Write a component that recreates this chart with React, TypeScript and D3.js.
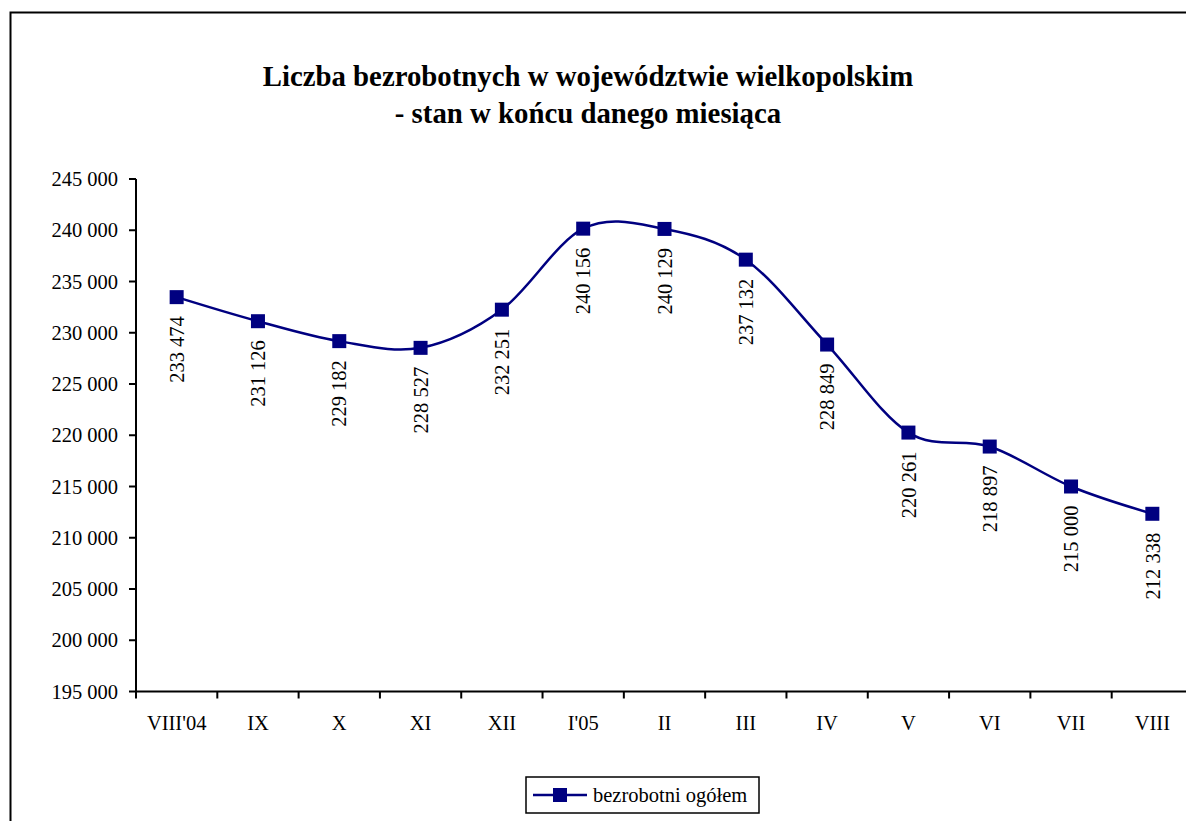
import React, { useEffect, useRef } from 'react';
import * as d3 from 'd3';

const months = ["VIII'04", 'IX', 'X', 'XI', 'XII', "I'05", 'II', 'III', 'IV', 'V', 'VI', 'VII', 'VIII'];
const unemployed = [233474, 231126, 229182, 228527, 232251, 240156, 240129, 237132, 228849, 220261, 218897, 215000, 212338];
const yTicks = [195000, 200000, 205000, 210000, 215000, 220000, 225000, 230000, 235000, 240000, 245000];
const titleLines = ['Liczba bezrobotnych w województwie wielkopolskim', '- stan w końcu danego miesiąca'];
const seriesName = 'bezrobotni ogółem';

const W = 1186;
const H = 821;
const NAVY = '#000080';
const FONT = 'Liberation Serif, Times New Roman, serif';

const fmt = (v: number) => d3.format(',')(v).replace(/,/g, ' ');

const App: React.FC = () => {
  const svgRef = useRef<SVGSVGElement | null>(null);

  useEffect(() => {
    const svg = d3.select(svgRef.current);
    svg.selectAll('*').remove();

    const left = 136;
    const right = 1193;
    const top = 179;
    const bottom = 691.5;

    const x = d3.scaleBand<string>().domain(months).range([left, right]).padding(0);
    const y = d3.scaleLinear().domain([195000, 245000]).range([bottom, top]);
    const cx = (m: string) => (x(m) || 0) + x.bandwidth() / 2;

    // outer chart border (runs off the picture right and bottom)
    svg.append('rect')
      .attr('x', 10.5).attr('y', 12.5)
      .attr('width', W + 20).attr('height', H + 20)
      .attr('fill', 'white').attr('stroke', '#000').attr('stroke-width', 2);

    // title
    svg.append('g')
      .selectAll('text')
      .data(titleLines)
      .join('text')
      .attr('x', 588)
      .attr('y', (_, i) => 85.5 + i * 37)
      .attr('text-anchor', 'middle')
      .attr('font-family', FONT)
      .attr('font-weight', 'bold')
      .attr('font-size', 28.8)
      .text(d => d);

    // y axis
    const yAxis = svg.append('g').attr('font-family', FONT).attr('font-size', 20.5);
    yAxis.append('line')
      .attr('x1', left).attr('x2', left).attr('y1', top).attr('y2', bottom)
      .attr('stroke', '#000').attr('stroke-width', 2);
    yAxis.selectAll('line.tick')
      .data(yTicks)
      .join('line')
      .attr('class', 'tick')
      .attr('x1', left - 7).attr('x2', left)
      .attr('y1', d => y(d)).attr('y2', d => y(d))
      .attr('stroke', '#000').attr('stroke-width', 2);
    yAxis.selectAll('text')
      .data(yTicks)
      .join('text')
      .attr('x', 118)
      .attr('y', d => y(d))
      .attr('dy', '0.35em')
      .attr('text-anchor', 'end')
      .text(d => fmt(d));

    // x axis
    const xAxis = svg.append('g').attr('font-family', FONT).attr('font-size', 20.5);
    xAxis.append('line')
      .attr('x1', left).attr('x2', right).attr('y1', bottom).attr('y2', bottom)
      .attr('stroke', '#000').attr('stroke-width', 2);
    xAxis.selectAll('line.tick')
      .data(months)
      .join('line')
      .attr('class', 'tick')
      .attr('x1', d => x(d) || 0).attr('x2', d => x(d) || 0)
      .attr('y1', bottom).attr('y2', bottom + 7)
      .attr('stroke', '#000').attr('stroke-width', 2);
    xAxis.selectAll('text')
      .data(months)
      .join('text')
      .attr('x', d => cx(d))
      .attr('y', 730)
      .attr('text-anchor', 'middle')
      .text(d => d);

    // series
    const pts = months.map((m, i) => ({ m, v: unemployed[i] }));
    const line = d3.line<{ m: string; v: number }>()
      .x(d => cx(d.m))
      .y(d => y(d.v))
      .curve(d3.curveCardinal.tension(0));

    svg.append('path')
      .datum(pts)
      .attr('d', line)
      .attr('fill', 'none')
      .attr('stroke', NAVY)
      .attr('stroke-width', 2.5);

    svg.append('g')
      .selectAll('rect')
      .data(pts)
      .join('rect')
      .attr('x', d => cx(d.m) - 7)
      .attr('y', d => y(d.v) - 7)
      .attr('width', 14)
      .attr('height', 14)
      .attr('fill', NAVY);

    // data labels, rotated
    svg.append('g')
      .attr('font-family', FONT)
      .attr('font-size', 20.5)
      .selectAll('text')
      .data(pts)
      .join('text')
      .attr('transform', d => `translate(${cx(d.m)},${y(d.v) + 19}) rotate(-90)`)
      .attr('text-anchor', 'end')
      .attr('dy', '0.35em')
      .text(d => fmt(d.v));

    // legend
    const lg = svg.append('g').attr('transform', 'translate(526,777)');
    lg.append('rect')
      .attr('width', 233).attr('height', 36)
      .attr('fill', 'white').attr('stroke', '#000').attr('stroke-width', 1.5);
    lg.append('line')
      .attr('x1', 7).attr('x2', 61).attr('y1', 18).attr('y2', 18)
      .attr('stroke', NAVY).attr('stroke-width', 2.5);
    lg.append('rect')
      .attr('x', 27).attr('y', 11).attr('width', 14).attr('height', 14)
      .attr('fill', NAVY);
    lg.append('text')
      .attr('x', 67).attr('y', 18).attr('dy', '0.35em')
      .attr('font-family', FONT).attr('font-size', 20.5)
      .text(seriesName);
  }, []);

  return (
    <svg
      ref={svgRef}
      width={W}
      height={H}
      style={{ position: 'absolute', left: 0, top: 0, background: 'white' }}
    />
  );
};

export default App;
